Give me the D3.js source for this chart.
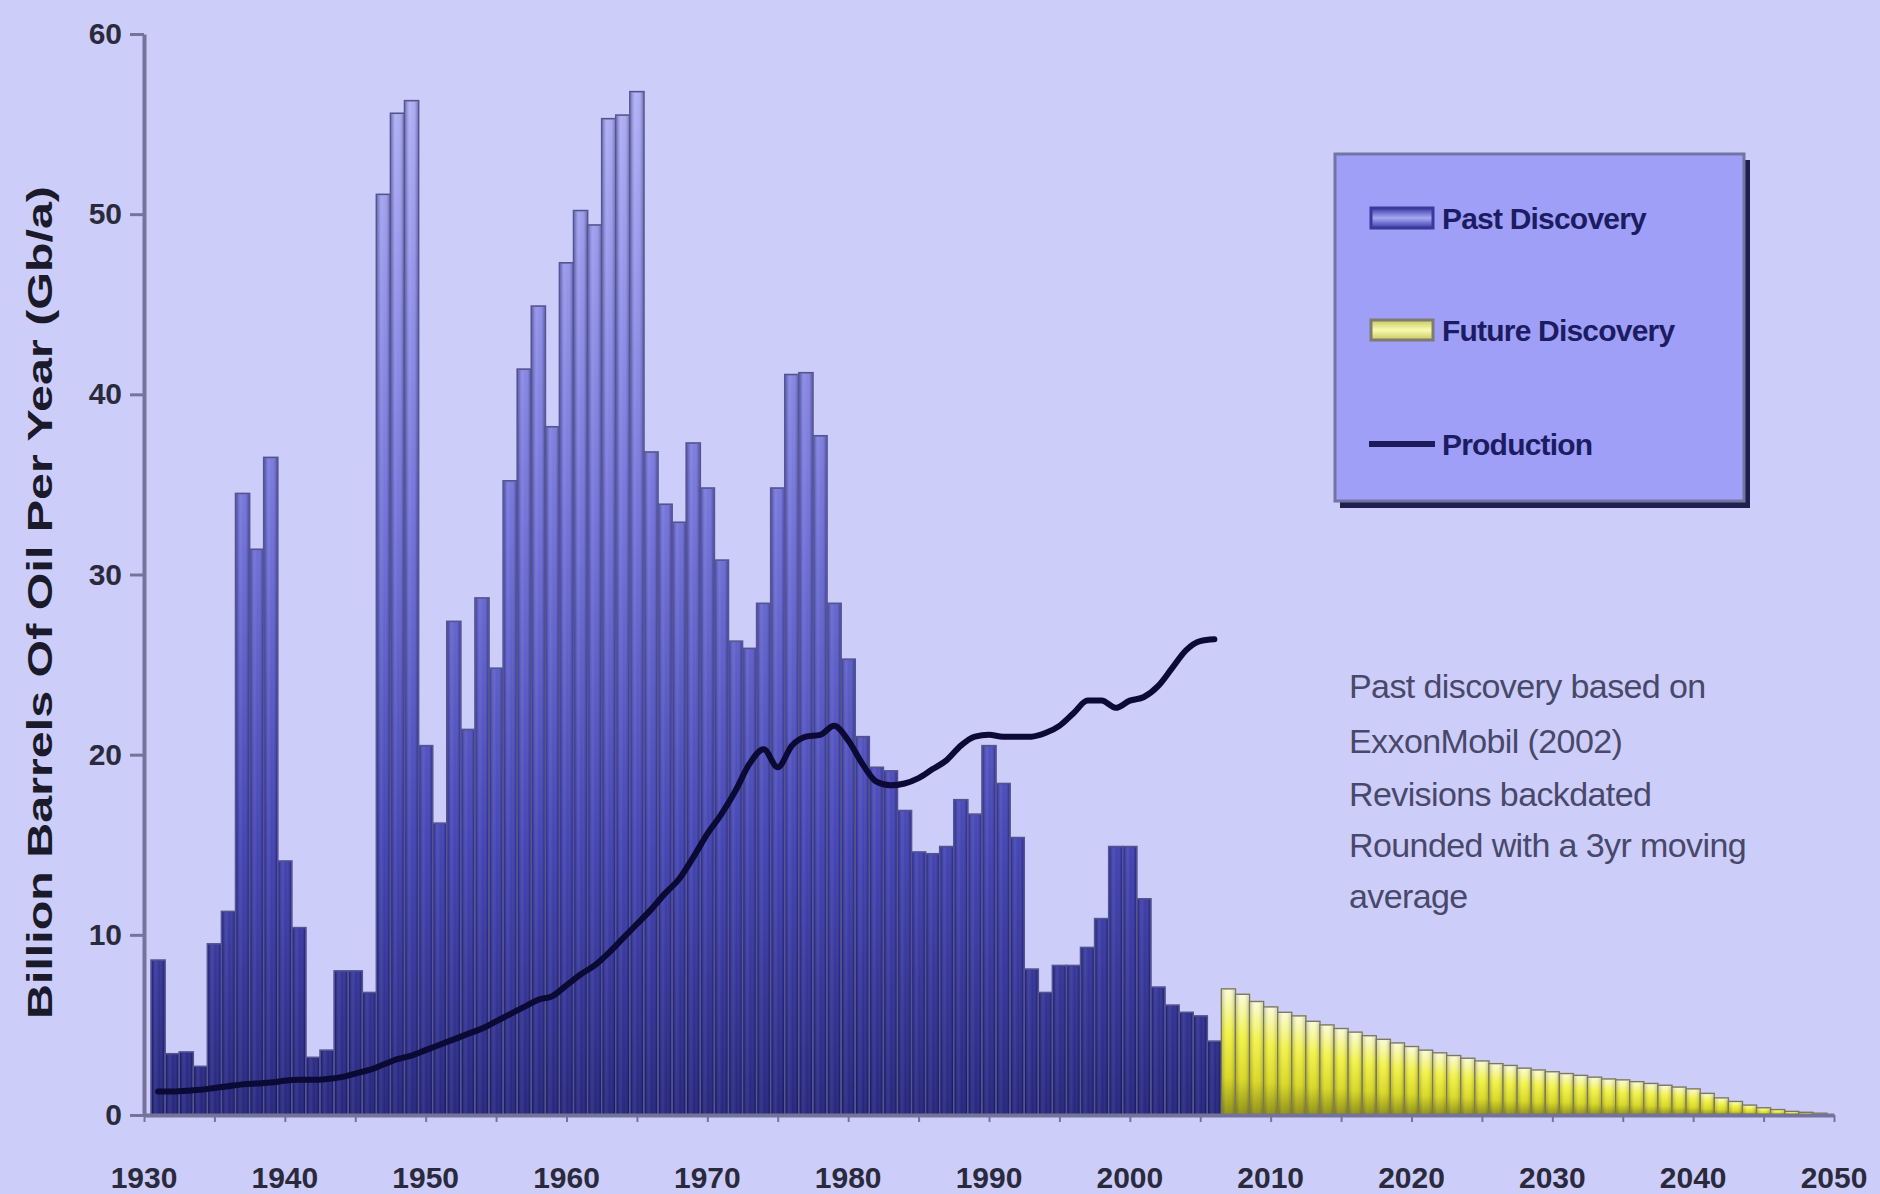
<!DOCTYPE html>
<html>
<head>
<meta charset="utf-8">
<script src="https://cdn.jsdelivr.net/npm/d3@7"></script>
<style>
  html, body { margin: 0; padding: 0; background: #cdcdfa; }
  svg { display: block; }
</style>
</head>
<body>
<svg id="chart" width="1880" height="1194"></svg>
<script>
// ---------- DATA ----------
const pastYears = d3.range(1931, 2007);
const pastDiscovery = [
  8.6, 3.4, 3.5, 2.7, 9.5, 11.3, 34.5, 31.4, 36.5, 14.1,      // 1931-1940
  10.4, 3.2, 3.6, 8.0, 8.0, 6.8, 51.1, 55.6, 56.3, 20.5,      // 1941-1950
  16.2, 27.4, 21.4, 28.7, 24.8, 35.2, 41.4, 44.9, 38.2, 47.3, // 1951-1960
  50.2, 49.4, 55.3, 55.5, 56.8, 36.8, 33.9, 32.9, 37.3, 34.8, // 1961-1970
  30.8, 26.3, 25.9, 28.4, 34.8, 41.1, 41.2, 37.7, 28.4, 25.3, // 1971-1980
  21.0, 19.3, 19.1, 16.9, 14.6, 14.5, 14.9, 17.5, 16.7, 20.5, // 1981-1990
  18.4, 15.4, 8.1, 6.8, 8.3, 8.3, 9.3, 10.9, 14.9, 14.9,      // 1991-2000
  12.0, 7.1, 6.1, 5.7, 5.5, 4.1                               // 2001-2006
];
const futureYears = d3.range(2007, 2050);
const futureDiscovery = [
  7.0, 6.7, 6.3, 6.0, 5.7, 5.5, 5.2, 5.0, 4.8, 4.6,           // 2007-2016
  4.4, 4.2, 4.0, 3.8, 3.6, 3.45, 3.3, 3.15, 3.0, 2.85,        // 2017-2026
  2.75, 2.6, 2.5, 2.4, 2.3, 2.2, 2.1, 2.0, 1.95, 1.85,        // 2027-2036
  1.75, 1.65, 1.55, 1.45, 1.2, 0.95, 0.75, 0.55, 0.4, 0.3,    // 2037-2046
  0.2, 0.15, 0.1                                              // 2047-2049
];
const productionYears = d3.range(1931, 2007);
const production = [
  1.3, 1.3, 1.35, 1.4, 1.5, 1.6, 1.7, 1.75, 1.8, 1.9,         // 1931-1940
  1.95, 1.95, 2.0, 2.1, 2.3, 2.5, 2.8, 3.1, 3.3, 3.6,         // 1941-1950
  3.9, 4.2, 4.5, 4.8, 5.2, 5.6, 6.0, 6.4, 6.6, 7.2,           // 1951-1960
  7.8, 8.3, 9.0, 9.8, 10.6, 11.4, 12.3, 13.1, 14.3, 15.6,     // 1961-1970
  16.7, 18.0, 19.5, 20.3, 19.3, 20.5, 21.0, 21.1, 21.6, 20.8, // 1971-1980
  19.5, 18.5, 18.3, 18.4, 18.7, 19.2, 19.7, 20.5, 21.0, 21.1, // 1981-1990
  21.0, 21.0, 21.0, 21.2, 21.6, 22.3, 23.0, 23.0, 22.6, 23.0, // 1991-2000
  23.2, 23.8, 24.8, 25.8, 26.3, 26.4                          // 2001-2006
];
const yTicks = [0, 10, 20, 30, 40, 50, 60];
const xLabelTicks = [1930, 1940, 1950, 1960, 1970, 1980, 1990, 2000, 2010, 2020, 2030, 2040, 2050];
const xMinorTicks = d3.range(1930, 2051, 5);
const legendLabels = ["Past Discovery", "Future Discovery", "Production"];
const yTitle = "Billion Barrels Of Oil Per Year (Gb/a)";
const noteLines = [
  "Past discovery based on",
  "ExxonMobil (2002)",
  "Revisions backdated",
  "Rounded with a 3yr moving",
  "average"
];

// ---------- SETUP ----------
const FONT = "'Liberation Sans', Arial, Helvetica, sans-serif";
const svg = d3.select("#chart");
const x = d3.scaleLinear().domain([1930, 2050]).range([144, 1834]);
const y = d3.scaleLinear().domain([0, 60]).range([1115, 34]);

svg.append("rect").attr("width", 1880).attr("height", 1194).attr("fill", "#cdcdfa");

const defs = svg.append("defs");
const gBlue = defs.append("linearGradient").attr("id", "gBlue")
  .attr("gradientUnits", "userSpaceOnUse")
  .attr("x1", 0).attr("x2", 0).attr("y1", y(0)).attr("y2", y(60));
[[0, "#1a1a76"], [0.25, "#3a3ab0"], [0.55, "#6c6cd8"], [0.8, "#9494ec"], [1, "#b4b4f8"]]
  .forEach(([o, c]) => gBlue.append("stop").attr("offset", o).attr("stop-color", c));

const gYel = defs.append("linearGradient").attr("id", "gYel")
  .attr("x1", 0).attr("x2", 0).attr("y1", 0).attr("y2", 1);
[[0, "#fbfbd8"], [0.35, "#f2f244"], [0.7, "#d8d820"], [1, "#8c8c10"]]
  .forEach(([o, c]) => gYel.append("stop").attr("offset", o).attr("stop-color", c));

const gShade = defs.append("linearGradient").attr("id", "gShade")
  .attr("x1", 0).attr("x2", 1).attr("y1", 0).attr("y2", 0);
[[0, "rgb(10,10,60)", 0.30], [0.35, "rgb(255,255,255)", 0.12], [0.6, "rgb(255,255,255)", 0.05], [1, "rgb(10,10,60)", 0.30]]
  .forEach(([o, c, a]) => gShade.append("stop").attr("offset", o).attr("stop-color", c).attr("stop-opacity", a));

const gBlueLeg = defs.append("linearGradient").attr("id", "gBlueLeg")
  .attr("x1", 0).attr("x2", 0).attr("y1", 0).attr("y2", 1);
[[0, "#3a3aaa"], [0.5, "#a8a8f4"], [1, "#3a3aaa"]]
  .forEach(([o, c]) => gBlueLeg.append("stop").attr("offset", o).attr("stop-color", c));
const gYelLeg = defs.append("linearGradient").attr("id", "gYelLeg")
  .attr("x1", 0).attr("x2", 0).attr("y1", 0).attr("y2", 1);
[[0, "#c8c860"], [0.5, "#fafab0"], [1, "#c8c860"]]
  .forEach(([o, c]) => gYelLeg.append("stop").attr("offset", o).attr("stop-color", c));

// ---------- BARS ----------
const past = pastYears.map((yr, i) => ({ yr, v: pastDiscovery[i] }));
const future = futureYears.map((yr, i) => ({ yr, v: futureDiscovery[i] }));

const gBars = svg.append("g");
gBars.selectAll("rect.past").data(past).join("rect").attr("class", "past")
  .attr("x", d => x(d.yr - 0.5)).attr("width", d => x(d.yr + 0.5) - x(d.yr - 0.5))
  .attr("y", d => y(d.v)).attr("height", d => y(0) - y(d.v))
  .attr("fill", "url(#gBlue)").attr("stroke", "#55558e").attr("stroke-width", 1.6);
gBars.selectAll("rect.pastShade").data(past).join("rect").attr("class", "pastShade")
  .attr("x", d => x(d.yr - 0.5) + 1).attr("width", d => x(d.yr + 0.5) - x(d.yr - 0.5) - 2)
  .attr("y", d => y(d.v) + 1).attr("height", d => Math.max(0, y(0) - y(d.v) - 1))
  .attr("fill", "url(#gShade)");

gBars.selectAll("rect.future").data(future).join("rect").attr("class", "future")
  .attr("x", d => x(d.yr - 0.5)).attr("width", d => x(d.yr + 0.5) - x(d.yr - 0.5))
  .attr("y", d => y(d.v)).attr("height", d => y(0) - y(d.v))
  .attr("fill", "url(#gYel)").attr("stroke", "#7a7a5a").attr("stroke-width", 1.4);
gBars.selectAll("rect.futureShade").data(future).join("rect").attr("class", "futureShade")
  .attr("x", d => x(d.yr - 0.5) + 1).attr("width", d => x(d.yr + 0.5) - x(d.yr - 0.5) - 2)
  .attr("y", d => y(d.v) + 1).attr("height", d => Math.max(0, y(0) - y(d.v) - 1))
  .attr("fill", "url(#gShade)").attr("opacity", 0.6);

// ---------- PRODUCTION LINE ----------
const prod = productionYears.map((yr, i) => ({ yr, v: production[i] }));
svg.append("path").datum(prod)
  .attr("d", d3.line().x(d => x(d.yr)).y(d => y(d.v)).curve(d3.curveMonotoneX))
  .attr("fill", "none").attr("stroke", "#0a0a34").attr("stroke-width", 6)
  .attr("stroke-linejoin", "round").attr("stroke-linecap", "round");

// ---------- AXES ----------
const AXC = "#74749a";
const yAxis = svg.append("g").attr("transform", `translate(${x(1930)},0)`)
  .call(d3.axisLeft(y).tickValues(yTicks).tickSize(14).tickPadding(8).tickSizeOuter(0));
yAxis.select(".domain").attr("stroke", AXC).attr("stroke-width", 4);
yAxis.selectAll(".tick line").attr("stroke", AXC).attr("stroke-width", 3);
yAxis.selectAll(".tick text").attr("font-family", FONT).attr("font-size", 30)
  .attr("font-weight", "bold").attr("fill", "#2a2a3c");

const xAxis = svg.append("g").attr("transform", `translate(0,${y(0)})`)
  .call(d3.axisBottom(x).tickValues(xMinorTicks).tickSize(7).tickFormat("").tickSizeOuter(0));
xAxis.select(".domain").attr("stroke", AXC).attr("stroke-width", 4);
xAxis.selectAll(".tick line").attr("stroke", AXC).attr("stroke-width", 2);

svg.append("g").selectAll("text").data(xLabelTicks).join("text")
  .attr("x", d => x(d)).attr("y", 1188).attr("text-anchor", "middle")
  .attr("font-family", FONT).attr("font-size", 30).attr("font-weight", "bold")
  .attr("fill", "#2a2a3c").text(d => d);

svg.append("text")
  .attr("transform", `translate(52,${(186 + 1019) / 2}) rotate(-90)`)
  .attr("text-anchor", "middle")
  .attr("font-family", FONT).attr("font-size", 35).attr("font-weight", "bold")
  .attr("fill", "#1a1a2a")
  .attr("textLength", 833).attr("lengthAdjust", "spacingAndGlyphs")
  .text(yTitle);

// ---------- LEGEND ----------
const lg = svg.append("g");
lg.append("rect").attr("x", 1340).attr("y", 160).attr("width", 410).attr("height", 348)
  .attr("fill", "#20204e");
lg.append("rect").attr("x", 1335).attr("y", 154).attr("width", 409).attr("height", 347)
  .attr("fill", "#9f9ff7").attr("stroke", "#7474a4").attr("stroke-width", 3);

const legY = [218, 330, 444];
lg.append("rect").attr("x", 1371).attr("y", legY[0] - 10).attr("width", 62).attr("height", 20)
  .attr("fill", "url(#gBlueLeg)").attr("stroke", "#3a3a9a").attr("stroke-width", 3);
lg.append("rect").attr("x", 1371).attr("y", legY[1] - 10).attr("width", 62).attr("height", 20)
  .attr("fill", "url(#gYelLeg)").attr("stroke", "#7c7c70").attr("stroke-width", 3);
lg.append("line").attr("x1", 1369).attr("x2", 1435).attr("y1", legY[2]).attr("y2", legY[2])
  .attr("stroke", "#1c1c5c").attr("stroke-width", 6);
lg.selectAll("text").data(legendLabels).join("text")
  .attr("x", 1442).attr("y", (d, i) => legY[i]).attr("dy", "0.36em")
  .attr("font-family", FONT).attr("font-size", 30).attr("font-weight", "bold")
  .attr("fill", "#1c1c62").attr("letter-spacing", -0.8).text(d => d);

// ---------- NOTE ----------
svg.append("g").selectAll("text").data(noteLines).join("text")
  .attr("x", 1349).attr("y", (d, i) => [698, 753, 806, 857, 908][i])
  .attr("font-family", FONT).attr("font-size", 34)
  .attr("fill", "#48486a").attr("letter-spacing", -0.6).text(d => d);
</script>
</body>
</html>
